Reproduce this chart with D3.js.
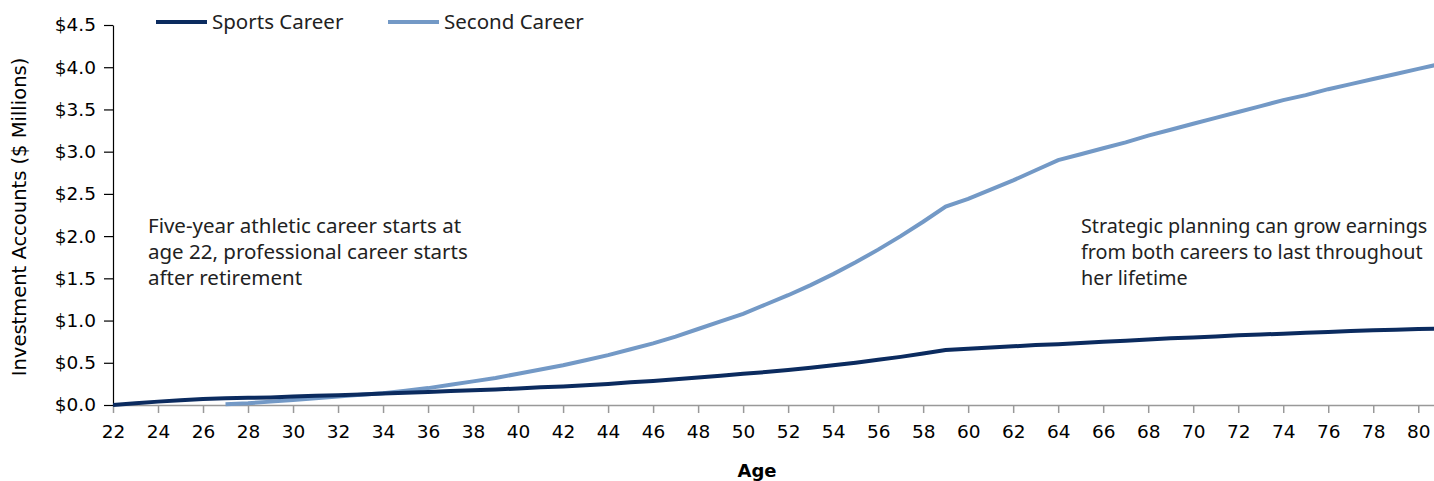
<!DOCTYPE html>
<html>
<head>
<meta charset="utf-8">
<script src="https://cdn.jsdelivr.net/npm/d3@7"></script>
<style>
  body { margin: 0; background: #fff; }
  .tick text { font-family: "DejaVu Sans", Verdana, sans-serif; font-size: 18.5px; fill: #000; }
  .note { font-family: "Noto Sans", "Open Sans", sans-serif; font-size: 20.5px; fill: #222; }
</style>
</head>
<body>
<script>
// ages for each series (one point per year)
const sportsAges = d3.range(22, 82);
const sportsValues = [0.00, 0.02, 0.04, 0.055, 0.07, 0.08, 0.085, 0.09, 0.10, 0.11,
  0.115, 0.125, 0.135, 0.145, 0.155, 0.165, 0.175, 0.185, 0.195, 0.21,
  0.22, 0.235, 0.25, 0.27, 0.285, 0.305, 0.325, 0.345, 0.37, 0.39,
  0.415, 0.44, 0.47, 0.50, 0.535, 0.57, 0.61, 0.65, 0.665, 0.68,
  0.695, 0.71, 0.72, 0.735, 0.75, 0.76, 0.775, 0.79, 0.80, 0.81,
  0.825, 0.835, 0.845, 0.855, 0.865, 0.875, 0.885, 0.89, 0.90, 0.905];

const secondAges = d3.range(27, 82);
const secondValues = [0.01, 0.02, 0.04, 0.06, 0.08, 0.10, 0.12, 0.14, 0.17, 0.20,
  0.24, 0.28, 0.32, 0.37, 0.42, 0.47, 0.53, 0.59, 0.66, 0.73,
  0.81, 0.90, 0.99, 1.08, 1.19, 1.30, 1.42, 1.55, 1.69, 1.84,
  2.00, 2.17, 2.35, 2.44, 2.55, 2.66, 2.78, 2.90, 2.97, 3.04,
  3.11, 3.19, 3.26, 3.33, 3.40, 3.47, 3.54, 3.61, 3.67, 3.74,
  3.80, 3.86, 3.92, 3.98, 4.04];

const xTicks = d3.range(22, 81, 2);
const yTicks = [0, 0.5, 1, 1.5, 2, 2.5, 3, 3.5, 4, 4.5];

const seriesNames = ["Sports Career", "Second Career"];
const seriesColors = ["#0b2b5f", "#7399c6"];

const leftNote = ["Five-year athletic career starts at", "age 22, professional career starts", "after retirement"];
const rightNote = ["Strategic planning can grow earnings", "from both careers to last throughout", "her lifetime"];

const W = 1434, H = 481;
const plotLeft = 113, plotRight = 1434, plotTop = 25, plotBottom = 405;

const svg = d3.select("body").append("svg")
    .attr("width", W)
    .attr("height", H);

const x = d3.scaleLinear().domain([22, 80.7]).range([plotLeft, plotRight]);
const y = d3.scaleLinear().domain([0, 4.5]).range([plotBottom, plotTop]);

svg.append("defs").append("clipPath").attr("id", "plot")
  .append("rect")
    .attr("x", plotLeft).attr("y", 0)
    .attr("width", plotRight - plotLeft).attr("height", H);

// x axis
const xAxis = svg.append("g")
    .attr("transform", "translate(0," + plotBottom + ")")
    .call(d3.axisBottom(x).tickValues(xTicks).tickSize(8).tickSizeOuter(0).tickPadding(12));
xAxis.select(".domain").attr("stroke", "#999").attr("stroke-width", 1.5);
xAxis.selectAll(".tick line").attr("stroke", "#999").attr("stroke-width", 1.5);

// y axis
const yAxis = svg.append("g")
    .attr("transform", "translate(" + plotLeft + ",0)")
    .call(d3.axisLeft(y).tickValues(yTicks).tickSize(9).tickSizeOuter(0).tickPadding(8)
      .tickFormat(function(d) { return "$" + d.toFixed(1); }));
yAxis.select(".domain").attr("stroke", "#000").attr("stroke-width", 1.2);
yAxis.selectAll(".tick line").attr("stroke", "#000").attr("stroke-width", 1.2);

// axis titles
svg.append("text")
    .attr("transform", "translate(26," + ((plotTop + plotBottom) / 2 + 2) + ") rotate(-90)")
    .attr("text-anchor", "middle")
    .attr("font-family", "DejaVu Sans, Verdana, sans-serif")
    .attr("font-size", "19.5px")
    .text("Investment Accounts ($ Millions)");

svg.append("text")
    .attr("x", 757)
    .attr("y", 477)
    .attr("text-anchor", "middle")
    .attr("font-family", "DejaVu Sans, Verdana, sans-serif")
    .attr("font-weight", "bold")
    .attr("font-size", "18px")
    .text("Age");

// lines
const line = d3.line()
    .x(function(d) { return x(d[0]); })
    .y(function(d) { return y(d[1]); });

const plot = svg.append("g").attr("clip-path", "url(#plot)");

plot.append("path")
    .datum(secondAges.map(function(a, i) { return [a, secondValues[i]]; }))
    .attr("fill", "none")
    .attr("stroke", seriesColors[1])
    .attr("stroke-width", 4)
    .attr("d", line);

plot.append("path")
    .datum(sportsAges.map(function(a, i) { return [a, sportsValues[i]]; }))
    .attr("fill", "none")
    .attr("stroke", seriesColors[0])
    .attr("stroke-width", 4)
    .attr("d", line);

// legend
const legendX = [156, 388];
seriesNames.forEach(function(name, i) {
  const g = svg.append("g").attr("transform", "translate(" + legendX[i] + ",22)");
  g.append("line")
      .attr("x1", 0).attr("x2", 51)
      .attr("stroke", seriesColors[i])
      .attr("stroke-width", 4);
  g.append("text")
      .attr("class", "note")
      .attr("x", 56)
      .attr("dy", "0.35em")
      .text(name);
});

// annotations
function note(lines, x0, size) {
  svg.append("text")
      .attr("class", "note")
      .style("font-size", size)
      .selectAll("tspan")
      .data(lines)
      .enter().append("tspan")
      .attr("x", x0)
      .attr("y", function(d, i) { return 233 + i * 26; })
      .text(function(d) { return d; });
}
note(leftNote, 148, "20.5px");
note(rightNote, 1081, "19.8px");
</script>
</body>
</html>
